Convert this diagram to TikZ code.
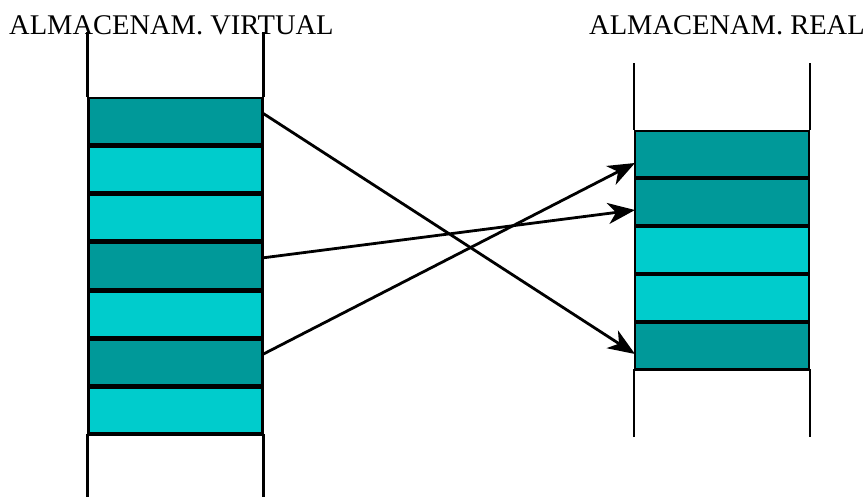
\documentclass[tikz,border=0pt]{standalone}
\usepackage{fontspec}
\setmainfont{Liberation Serif}
\usetikzlibrary{arrows.meta,calc}
\definecolor{darkteal}{RGB}{0,153,153}
\definecolor{lightteal}{RGB}{0,204,204}
\tikzset{
  cell/.style={draw=black, line width=2.6pt, minimum width=174pt, minimum height=45.8pt, inner sep=0pt, outer sep=0pt},
  darkcell/.style={cell, fill=darkteal},
  lightcell/.style={cell, fill=lightteal},
  rim/.style={draw=black, line width=2.4pt},
  title/.style={font=\fontsize{28.5}{30}\selectfont, anchor=base west, inner sep=0pt},
  link/.style={draw=black, line width=2.8pt, -{Stealth[length=27pt,width=21pt,inset=8pt]}}
}
\begin{document}
\begin{tikzpicture}[x=1pt,y=-1pt]
\useasboundingbox (0,0) rectangle (868,496);
% titles
\node[title] (tv) at (9,34) {ALMACENAM. VIRTUAL};
\node[title] (tr) at (589,34) {ALMACENAM. REAL};
% left column
\node[darkcell]  (l1) at (175.5,121) {};
\node[lightcell] (l2) at (175.5,169.3) {};
\node[lightcell] (l3) at (175.5,217.6) {};
\node[darkcell]  (l4) at (175.5,265.9) {};
\node[lightcell] (l5) at (175.5,314.2) {};
\node[darkcell]  (l6) at (175.5,362.5) {};
\node[lightcell] (l7) at (175.5,410.8) {};
\draw[rim] (87.5,32) -- (87.5,97);
\draw[rim] (263.5,32) -- (263.5,97);
\draw[rim] (87.5,500) -- (87.5,435) -- (263.5,435) -- (263.5,500);
% right column
\node[darkcell]  (r1) at (722,154) {};
\node[darkcell]  (r2) at (722,202) {};
\node[lightcell] (r3) at (722,250) {};
\node[lightcell] (r4) at (722,298) {};
\node[darkcell]  (r5) at (722,346) {};
\draw[rim] (634,63) -- (634,130);
\draw[rim] (810,63) -- (810,130);
\draw[rim] (634,437) -- (634,370) -- (810,370) -- (810,437);
% links
\draw[link] ($(l1.east)+(0,-8)$) -- ($(r5.west)+(0,8)$);
\draw[link] ($(l4.east)+(0,-8)$) -- ($(r2.west)+(0,8)$);
\draw[link] ($(l6.east)+(0,-8)$) -- ($(r1.west)+(0,9)$);
\end{tikzpicture}
\end{document}
